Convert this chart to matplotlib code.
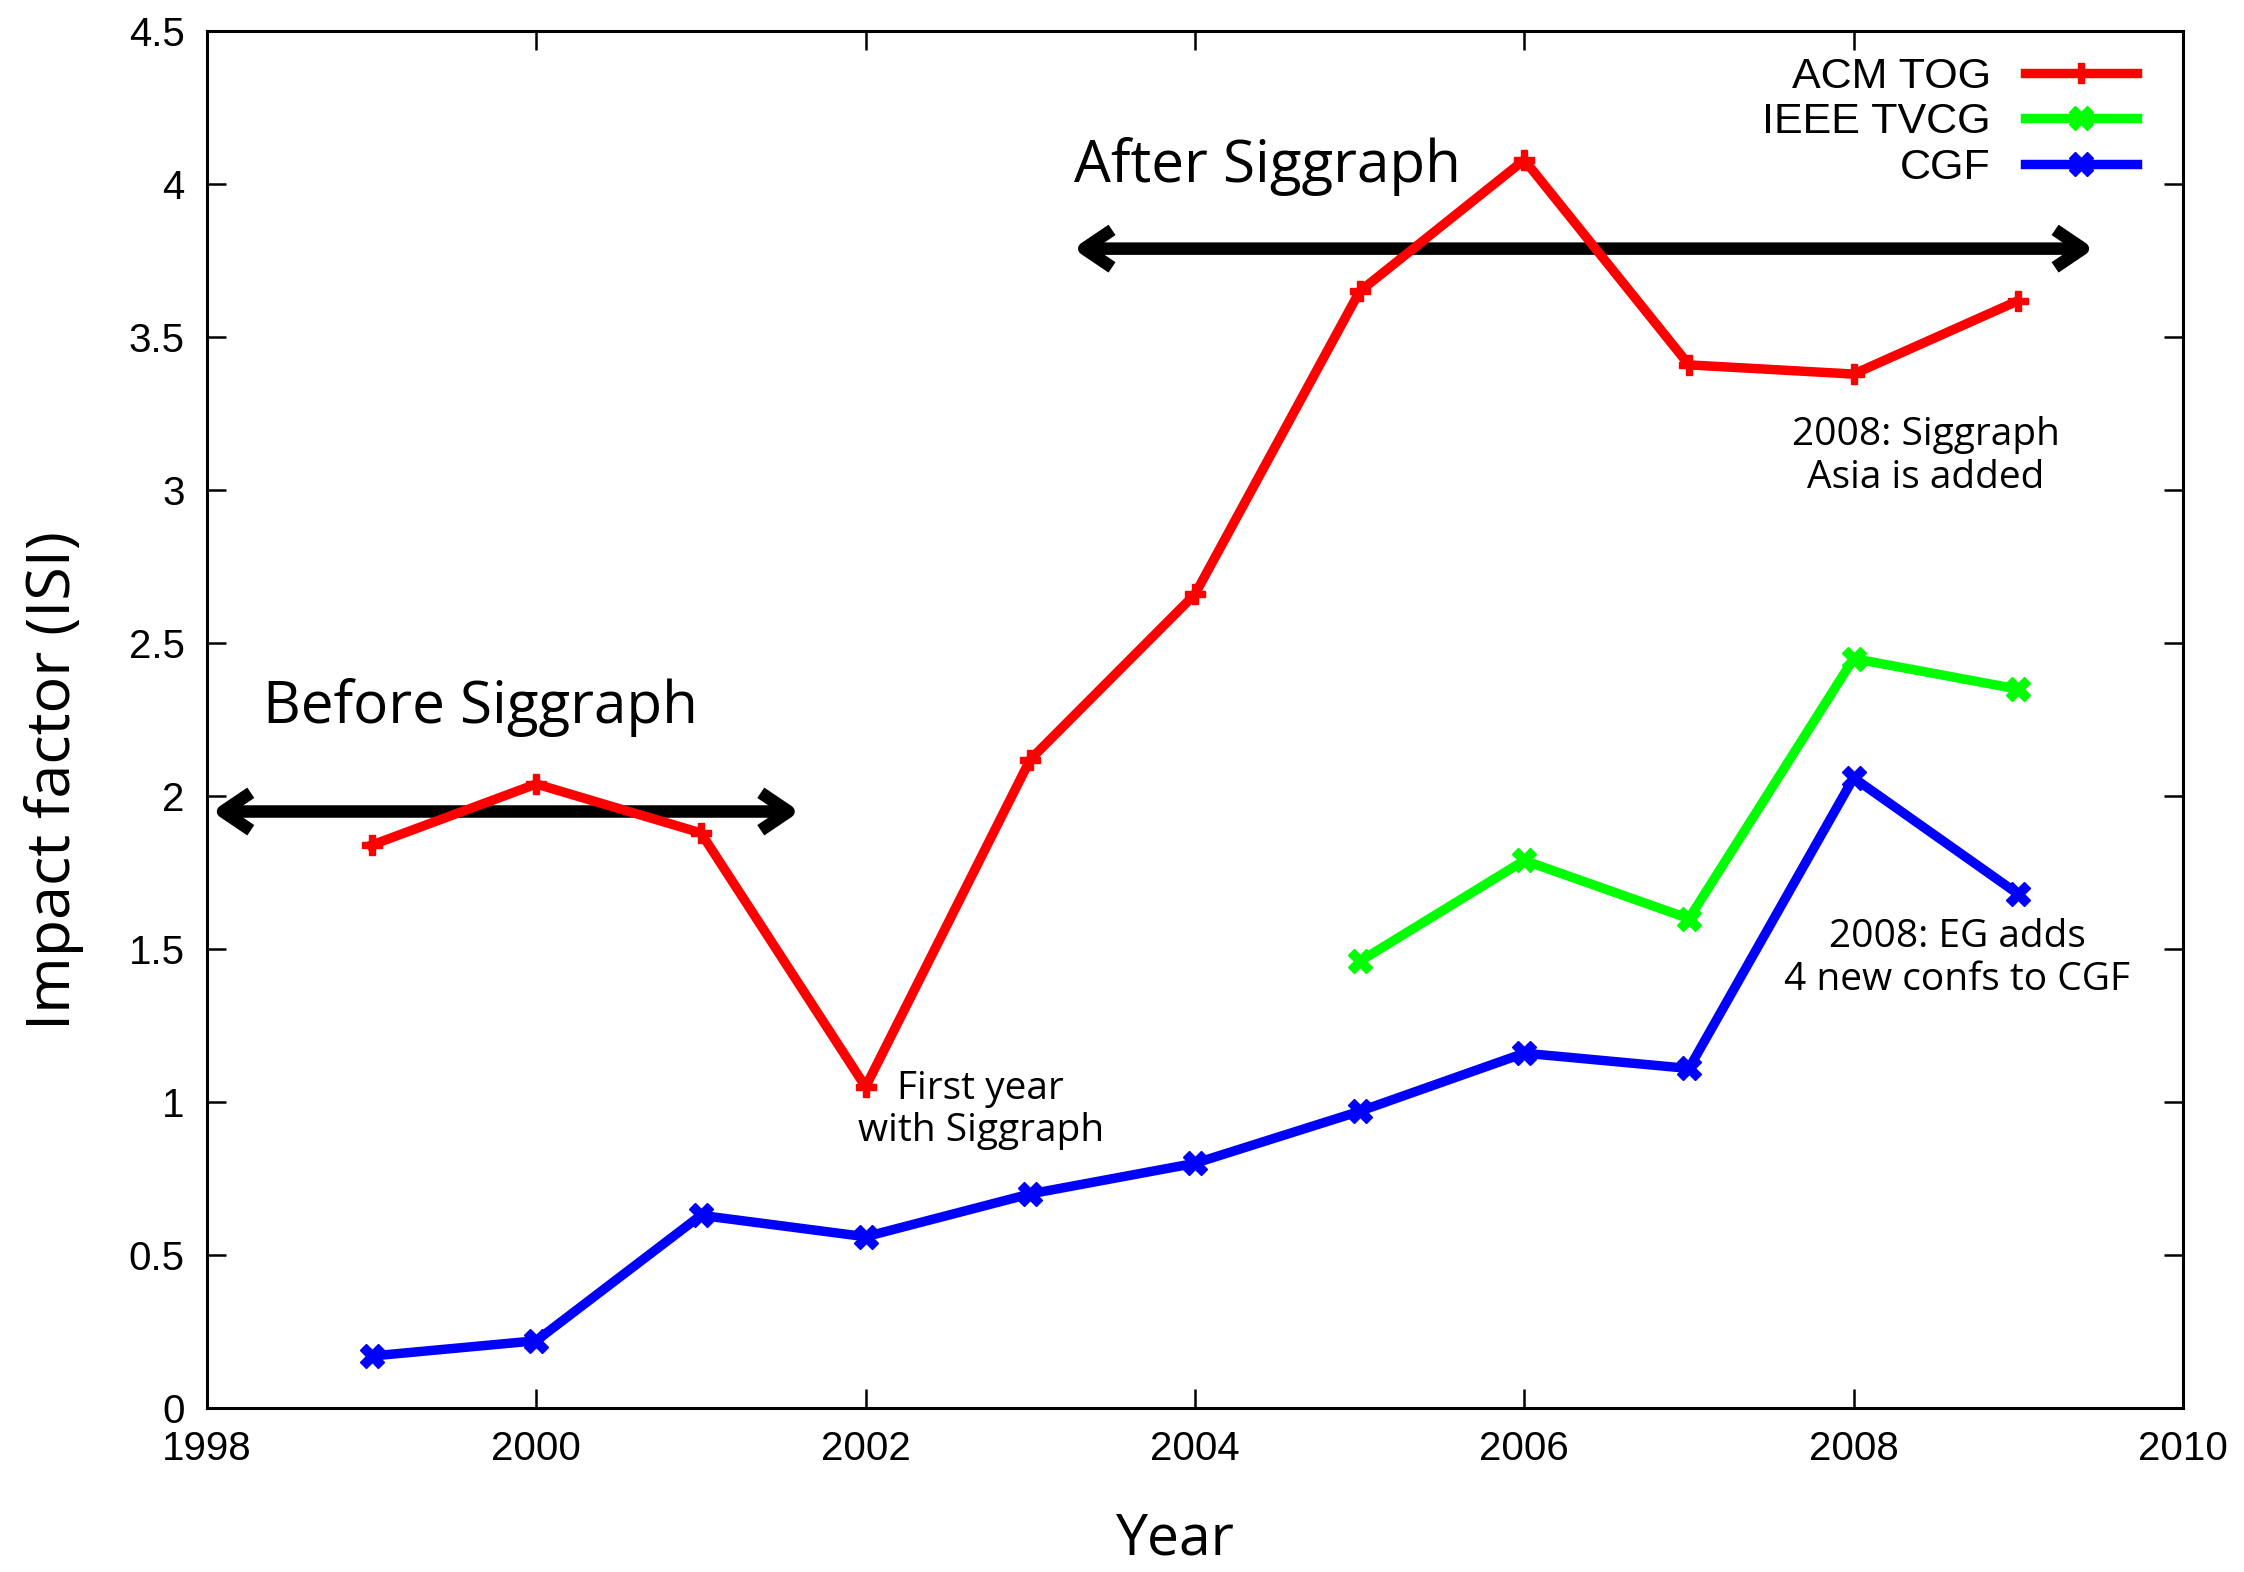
import matplotlib.pyplot as plt

# Jahre und Impact-Faktoren (ISI)
years = [1999, 2000, 2001, 2002, 2003, 2004, 2005, 2006, 2007, 2008, 2009]
acm_tog = [1.84, 2.04, 1.88, 1.05, 2.12, 2.66, 3.65, 4.08, 3.41, 3.38, 3.62]
tvcg_years = [2005, 2006, 2007, 2008, 2009]
ieee_tvcg = [1.46, 1.79, 1.60, 2.45, 2.35]
cgf = [0.17, 0.22, 0.63, 0.56, 0.70, 0.80, 0.97, 1.16, 1.11, 2.06, 1.68]

tick_font = "Liberation Sans"
note_font = "Open Sans"

fig = plt.figure(figsize=(22.44, 15.72), dpi=100)
ax = fig.add_axes([0.0922, 0.1043, 0.8806, 0.8757])

ax.plot(years, acm_tog, color="#ff0000", lw=6.8, marker="P", ms=15, label="ACM TOG", zorder=3)
ax.plot(tvcg_years, ieee_tvcg, color="#00ff00", lw=6.8, marker="X", ms=17, label="IEEE TVCG", zorder=3)
ax.plot(years, cgf, color="#0000ff", lw=6.8, marker="X", ms=17, label="CGF", zorder=3)

ax.set_xlim(1998, 2010)
ax.set_ylim(0, 4.5)
ax.set_xticks(range(1998, 2011, 2))
ax.set_yticks([0, 0.5, 1, 1.5, 2, 2.5, 3, 3.5, 4, 4.5])
ax.set_yticklabels(["0", "0.5", "1", "1.5", "2", "2.5", "3", "3.5", "4", "4.5"])
ax.tick_params(direction="in", top=True, right=True, length=14, width=1.8, pad=16, labelsize=29)
for lab in ax.get_xticklabels() + ax.get_yticklabels():
    lab.set_fontfamily(tick_font)
for s in ax.spines.values():
    s.set_linewidth(2.2)

ax.set_xlabel("Year", fontsize=41, fontfamily=note_font)
ax.set_ylabel("Impact factor (ISI)", fontsize=44, fontfamily=note_font)
ax.xaxis.set_label_coords(0.49, -0.075)
ax.yaxis.set_label_coords(-0.062, 0.456)

# Pfeile fuer die Zeitraeume
arrow = dict(arrowstyle="<->,head_length=2.0,head_width=1.35", lw=9, color="black",
             shrinkA=0, shrinkB=0, capstyle="butt")
ax.annotate("", xy=(1998.03, 1.95), xytext=(2001.6, 1.95), arrowprops=arrow, zorder=2)
ax.annotate("", xy=(2003.26, 3.79), xytext=(2009.46, 3.79), arrowprops=arrow, zorder=2)

ax.text(1999.66, 2.29, "Before Siggraph", fontsize=42, fontfamily=note_font, ha="center", va="center")
ax.text(2004.44, 4.06, "After Siggraph", fontsize=42, fontfamily=note_font, ha="center", va="center")
ax.text(2002.7, 0.975, "First year\nwith Siggraph", fontsize=28, fontfamily=note_font,
        ha="center", va="center", linespacing=1.15)
ax.text(2008.44, 3.11, "2008: Siggraph\nAsia is added", fontsize=28, fontfamily=note_font,
        ha="center", va="center", linespacing=1.15)
ax.text(2008.63, 1.47, "2008: EG adds\n4 new confs to CGF", fontsize=28, fontfamily=note_font,
        ha="center", va="center", linespacing=1.15)

leg = ax.legend(loc="upper right", frameon=False, markerfirst=False,
                handlelength=2.6, labelspacing=0.12, borderaxespad=0.2,
                bbox_to_anchor=(0.99, 1.0), prop={"family": tick_font, "size": 31})

fig.savefig("out.png", dpi=100)
